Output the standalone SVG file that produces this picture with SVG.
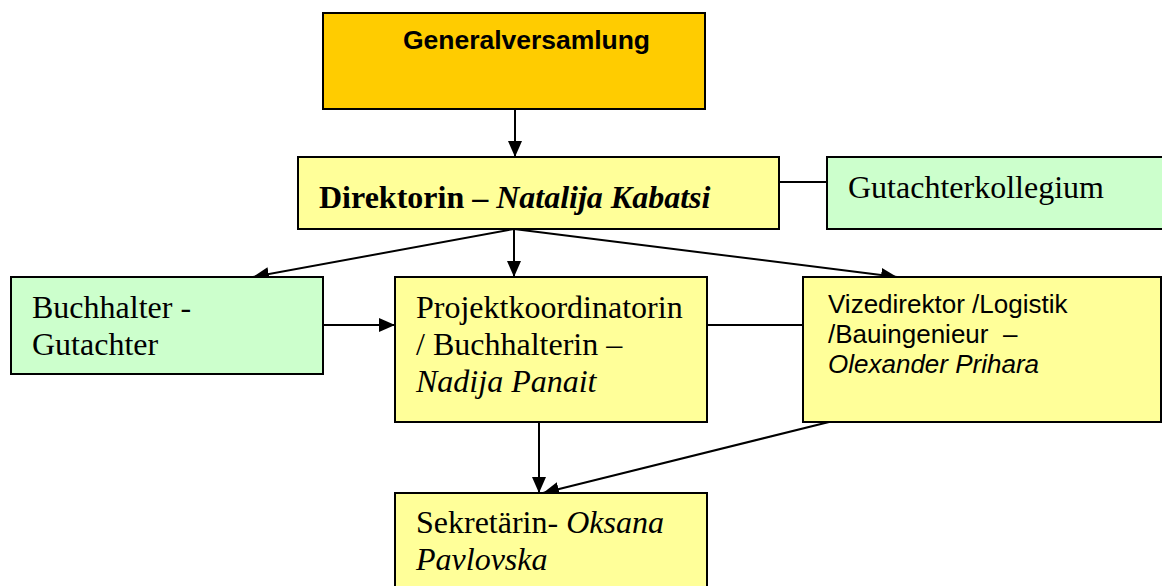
<svg xmlns="http://www.w3.org/2000/svg" width="1162" height="586" viewBox="0 0 1162 586">
<style>
.box{stroke:#000;stroke-width:2}
.gold{fill:#FFCC00}
.yel{fill:#FFFF99}
.grn{fill:#CCFFCC}
.t{font-family:"Liberation Serif","Times New Roman",serif;font-size:32px;fill:#000}
.a{font-family:"Liberation Sans",Arial,sans-serif;font-size:26px;fill:#000}
.c{stroke:#000;stroke-width:2;fill:none}
</style>
<defs>
<marker id="ah2" viewBox="0 0 10 10" refX="10" refY="5" markerWidth="16" markerHeight="14" markerUnits="userSpaceOnUse" orient="auto" preserveAspectRatio="none">
<path d="M0,0 L10,5 L0,10 z" fill="#000"/>
</marker>
</defs>
<g id="connectors">
<line class="c" x1="515" y1="109" x2="515" y2="157" marker-end="url(#ah2)"/>
<line class="c" x1="779" y1="182" x2="827" y2="182"/>
<line class="c" x1="514" y1="229" x2="253" y2="277" marker-end="url(#ah2)"/>
<line class="c" x1="514" y1="229" x2="514" y2="277" marker-end="url(#ah2)"/>
<line class="c" x1="514" y1="229" x2="897" y2="277" marker-end="url(#ah2)"/>
<line class="c" x1="323" y1="325" x2="395" y2="325" marker-end="url(#ah2)"/>
<line class="c" x1="707" y1="325" x2="803" y2="325"/>
<line class="c" x1="539" y1="422" x2="539" y2="493" marker-end="url(#ah2)"/>
<line class="c" x1="829" y1="422" x2="543" y2="493" marker-end="url(#ah2)"/>
</g>
<g id="generalversammlung">
<rect class="box gold" x="323" y="13" width="382" height="96"/>
<text x="403" y="49" textLength="247" lengthAdjust="spacing" style="font-family:'Liberation Sans',Arial,sans-serif;font-weight:bold;font-size:26.5px">Generalversamlung</text>
</g>
<g id="direktorin">
<rect class="box yel" x="298" y="157" width="481" height="72"/>
<text class="t" x="319" y="208" font-weight="bold">Direktorin – <tspan font-style="italic">Natalija Kabatsi</tspan></text>
</g>
<g id="gutachterkollegium">
<rect class="box grn" x="827" y="157" width="345" height="72"/>
<text class="t" x="848" y="198">Gutachterkollegium</text>
</g>
<g id="buchhalter">
<rect class="box grn" x="11" y="277" width="312" height="97"/>
<text class="t" x="32" y="318">Buchhalter -</text>
<text class="t" x="32" y="355">Gutachter</text>
</g>
<g id="projektkoordinatorin">
<rect class="box yel" x="395" y="277" width="312" height="145"/>
<text class="t" x="416" y="318">Projektkoordinatorin</text>
<text class="t" x="416" y="355">/ Buchhalterin –</text>
<text class="t" x="416" y="392" font-style="italic">Nadija Panait</text>
</g>
<g id="vizedirektor">
<rect class="box yel" x="803" y="277" width="358" height="145"/>
<text class="a" x="828" y="313">Vizedirektor /Logistik</text>
<text class="a" x="828" y="343" xml:space="preserve">/Bauingenieur  –</text>
<text class="a" x="828" y="373" font-style="italic">Olexander Prihara</text>
</g>
<g id="sekretaerin">
<rect class="box yel" x="395" y="493" width="312" height="110"/>
<text class="t" x="416" y="533">Sekretärin- <tspan font-style="italic">Oksana</tspan></text>
<text class="t" x="416" y="570" font-style="italic">Pavlovska</text>
</g>
</svg>
